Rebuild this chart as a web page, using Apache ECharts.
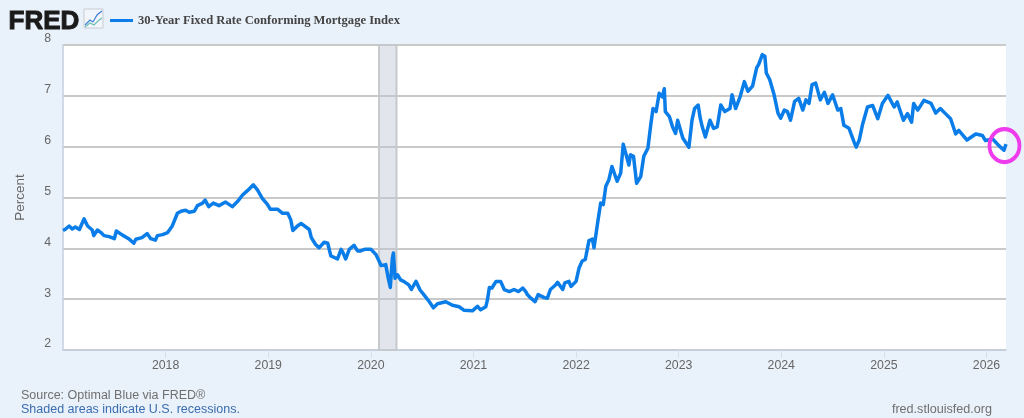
<!DOCTYPE html>
<html><head><meta charset="utf-8">
<style>html,body{margin:0;padding:0;background:#e9f1fa}#c{width:1024px;height:418px}</style>
<script src="https://cdn.jsdelivr.net/npm/echarts@6/dist/echarts.min.js"></script>
</head><body><div id="c"></div>
<script>
const seriesName = '30-Year Fixed Rate Conforming Mortgage Index';
const yearPos = [2017.00,2017.02,2017.06,2017.09,2017.12,2017.16,2017.205,2017.24,2017.285,2017.30,2017.335,2017.37,2017.40,2017.45,2017.50,2017.52,2017.58,2017.64,2017.69,2017.71,2017.77,2017.82,2017.855,2017.90,2017.92,2017.97,
2018.02,2018.065,2018.115,2018.15,2018.195,2018.23,2018.28,2018.31,2018.36,2018.385,2018.42,2018.465,2018.52,2018.585,2018.65,2018.70,2018.75,2018.80,2018.855,2018.895,2018.94,2018.99,
2019.02,2019.09,2019.14,2019.19,2019.22,2019.24,2019.285,2019.32,2019.40,2019.42,2019.46,2019.495,2019.545,2019.58,2019.61,2019.675,2019.71,2019.725,2019.755,2019.79,2019.836,2019.87,2019.90,2019.94,
2020.00,2020.05,2020.08,2020.10,2020.145,2020.17,2020.19,2020.21,2020.22,2020.236,2020.26,2020.29,2020.32,2020.37,2020.395,2020.44,2020.48,2020.52,2020.57,2020.61,2020.65,2020.73,2020.795,2020.86,2020.91,2020.99,
2021.04,2021.07,2021.12,2021.136,2021.155,2021.18,2021.22,2021.265,2021.30,2021.35,2021.395,2021.44,2021.48,2021.51,2021.525,2021.56,2021.60,2021.63,2021.69,2021.72,2021.75,2021.80,2021.82,2021.87,2021.89,2021.93,2021.95,
2022.00,2022.03,2022.06,2022.09,2022.126,2022.16,2022.175,2022.21,2022.24,2022.265,2022.29,2022.32,2022.35,2022.40,2022.435,2022.46,2022.48,2022.515,2022.53,2022.56,2022.59,2022.63,2022.66,2022.70,2022.73,2022.75,2022.78,2022.81,2022.84,2022.86,2022.87,2022.91,2022.94,2022.97,2022.99,
2023.04,2023.10,2023.13,2023.155,2023.19,2023.21,2023.23,2023.26,2023.305,2023.34,2023.376,2023.41,2023.45,2023.50,2023.52,2023.555,2023.60,2023.64,2023.675,2023.72,2023.76,2023.78,2023.815,2023.84,2023.854,2023.887,2023.93,2023.968,2023.994,
2024.03,2024.06,2024.09,2024.13,2024.17,2024.21,2024.24,2024.27,2024.30,2024.335,2024.38,2024.42,2024.455,2024.50,2024.55,2024.58,2024.61,2024.66,2024.71,2024.73,2024.76,2024.79,2024.84,2024.89,2024.94,2024.985,
2025.04,2025.10,2025.13,2025.19,2025.23,2025.27,2025.29,2025.33,2025.39,2025.46,2025.505,2025.55,2025.60,2025.65,2025.70,2025.73,2025.81,2025.895,2025.96,2025.99,
2026.06,2026.12,2026.17,2026.19];
const rateValues = [4.35,4.37,4.44,4.38,4.42,4.37,4.58,4.44,4.36,4.25,4.36,4.31,4.25,4.23,4.19,4.34,4.26,4.19,4.10,4.18,4.21,4.29,4.19,4.16,4.25,4.27,
4.31,4.44,4.69,4.73,4.75,4.71,4.73,4.84,4.89,4.95,4.82,4.89,4.84,4.91,4.82,4.92,5.05,5.14,5.25,5.15,4.99,4.87,
4.77,4.77,4.69,4.69,4.56,4.35,4.44,4.49,4.37,4.21,4.08,4.01,4.12,4.10,3.85,3.79,3.98,3.93,3.79,3.98,4.06,3.95,3.95,3.98,
3.98,3.88,3.75,3.66,3.68,3.41,3.23,3.81,3.91,3.41,3.48,3.38,3.35,3.28,3.19,3.35,3.18,3.08,2.95,2.83,2.91,2.95,2.88,2.85,2.78,2.77,
2.86,2.79,2.85,2.98,3.23,3.22,3.35,3.35,3.19,3.15,3.19,3.15,3.22,3.15,3.09,3.02,2.95,3.09,3.03,3.02,3.19,3.28,3.33,3.19,3.32,3.35,3.25,
3.35,3.62,3.75,3.78,4.15,4.18,4.01,4.50,4.89,4.86,5.22,5.35,5.61,5.32,5.48,6.05,5.90,5.64,5.84,5.81,5.28,5.41,5.81,5.97,6.46,6.75,6.69,7.05,6.98,7.14,6.69,6.59,6.39,6.26,6.52,
6.17,5.99,6.52,6.75,6.82,6.56,6.39,6.19,6.52,6.36,6.39,6.82,6.69,6.75,7.02,6.75,6.99,7.28,7.09,7.19,7.55,7.62,7.81,7.78,7.45,7.32,7.02,6.66,6.56,
6.72,6.69,6.52,6.89,6.95,6.72,6.92,6.85,7.22,7.25,6.92,7.07,6.85,7.02,6.72,6.75,6.42,6.36,6.09,5.99,6.13,6.42,6.78,6.81,6.55,6.85,
7.01,6.78,6.88,6.52,6.65,6.48,6.85,6.72,6.91,6.85,6.66,6.75,6.65,6.55,6.25,6.32,6.13,6.25,6.22,6.12,
6.15,6.02,5.93,6.05];
const recessionSpan = [2020.08, 2020.25];
const highlightPoint = [2026.175, 6.02];
const yTicks = [2,3,4,5,6,7,8];
const footSource = 'Source: Optimal Blue via FRED®';
const footNote = 'Shaded areas indicate U.S. recessions.';
const footSite = 'fred.stlouisfed.org';

const sans = '"Liberation Sans", Arial, sans-serif';
const chart = echarts.init(document.getElementById('c'), null, {renderer:'canvas'});
chart.setOption({
  animation:false,
  backgroundColor:'#e9f1fa',
  textStyle:{fontFamily:sans},
  grid:{left:63,right:18,top:45,bottom:68,show:true,backgroundColor:'#ffffff',borderWidth:0,outerBoundsMode:'none',containLabel:false},
  legend:{
    data:[seriesName],left:110,top:12,itemWidth:23,itemHeight:3,
    icon:'rect',selectedMode:false,
    textStyle:{fontFamily:'"Liberation Serif", serif',fontWeight:'bold',fontSize:12.6,color:'#444444'},
    itemGap:4,padding:[2,0,2,0]
  },
  xAxis:{
    type:'value',min:2017,max:2026.19,interval:1,
    splitLine:{show:false},
    axisLine:{show:true,lineStyle:{color:'#c5cfe0',width:1.5}},
    axisTick:{show:true,length:8,lineStyle:{color:'#d5e0ee',width:1}},
    axisLabel:{
      color:'#666666',fontSize:12.3,fontFamily:sans,margin:10,
      showMinLabel:false,showMaxLabel:false,
      formatter:v=>Number.isInteger(v)&&v>2017?String(v):''
    }
  },
  yAxis:{
    type:'value',min:yTicks[0],max:yTicks[yTicks.length-1],interval:1,
    name:'Percent',nameLocation:'middle',nameGap:36,
    nameTextStyle:{color:'#666666',fontSize:13.5,fontFamily:sans},
    splitLine:{show:true,lineStyle:{color:'#c9c9c9',width:2}},
    axisLine:{show:true,lineStyle:{color:'#c5cfe0',width:1.5}},
    axisTick:{show:false},
    axisLabel:{color:'#666666',fontSize:12.3,fontFamily:sans,margin:12,verticalAlign:'bottom',lineHeight:12}
  },
  series:[
    {
      name:seriesName,type:'line',showSymbol:false,symbol:'none',
      data:yearPos.map((y,i)=>[y,rateValues[i]]),
      lineStyle:{color:'#0b7de8',width:3.5,join:'round'},
      itemStyle:{color:'#0b7de8'},
      markArea:{
        silent:true,
        itemStyle:{color:'rgba(190,200,212,0.45)',borderColor:'#c6c9cc',borderWidth:2},
        data:[[{xAxis:recessionSpan[0]},{xAxis:recessionSpan[1]}]]
      },
      z:3
    },
    {
      name:'highlight',type:'scatter',data:[highlightPoint],clip:false,
      symbol:'circle',symbolSize:[30,33],silent:true,
      itemStyle:{color:'rgba(0,0,0,0)',borderColor:'#ee3cec',borderWidth:4,opacity:1},
      z:5
    }
  ],
  graphic:[
    {type:'text',left:8,top:8,style:{text:'FRED',font:'900 26px '+sans,fill:'#1a1a1a',stroke:'#1a1a1a',lineWidth:1}},
    {type:'rect',shape:{x:84,y:9,width:19,height:19},style:{fill:'#f2f6fb',stroke:'#c9ccd2',lineWidth:1}},
    {type:'polyline',shape:{points:[[85,25],[90,20],[93,22],[97,15],[102,11]]},style:{stroke:'#3f7fd6',fill:null,lineWidth:1.2}},
    {type:'polyline',shape:{points:[[85,27],[90,23],[94,25],[98,21],[102,18]]},style:{stroke:'#6cc0b2',fill:null,lineWidth:1.2}},
    {type:'text',left:21,top:389,style:{text:footSource,font:'12.5px '+sans,fill:'#6f6f6f'}},
    {type:'text',left:21,top:403,style:{text:footNote,font:'12.5px '+sans,fill:'#3a6db0'}},
    {type:'text',right:32,top:403,style:{text:footSite,font:'12.6px '+sans,fill:'#6f6f6f'}}
  ]
});
</script></body></html>
